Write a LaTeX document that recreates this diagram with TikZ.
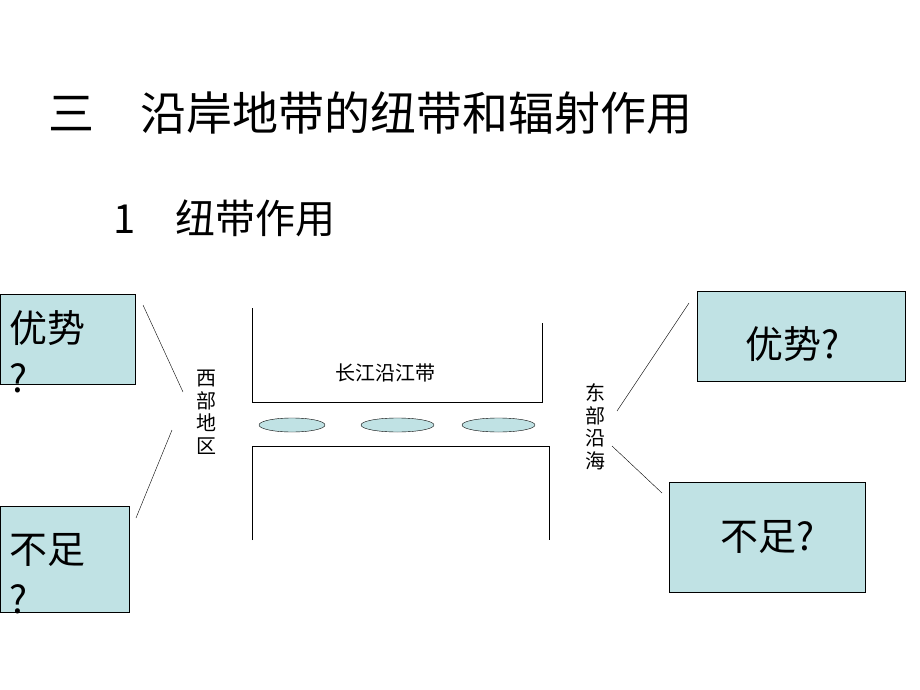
\documentclass[tikz,border=0pt]{standalone}
\usepackage{fontspec}
\newfontfamily\cjk{Noto Sans CJK SC}
\usetikzlibrary{positioning,calc,shapes.geometric}
\definecolor{paleblue}{RGB}{192,226,228}

\begin{document}
\begin{tikzpicture}[x=1pt,y=-1pt]
        \tikzset{box/.style={draw, fill=paleblue, inner sep=0pt, anchor=north west},
                 lens/.style={ellipse, draw, fill=paleblue, inner sep=0pt, minimum height=14pt},
                 side/.style={font=\cjk\fontsize{20}{22.5}\selectfont, align=center, inner sep=0pt},
                 big/.style={font=\cjk\fontsize{38}{50}\selectfont, inner sep=0pt}}
        \useasboundingbox (0,0) rectangle (920,690);

        % titles
        \node[anchor=west, inner sep=0pt, font=\cjk\fontsize{46}{50}\selectfont] (title) at (48,113) {三　沿岸地带的纽带和辐射作用};
        \node[anchor=west, inner sep=0pt, font=\cjk\fontsize{40}{44}\selectfont] (sub) at (113,218) {1　纽带作用};

        % river belt
        \draw (252,308) -- (252,402) -- (542,402) -- (542,323);
        \draw (252,540) -- (252,446) -- (549,446) -- (549,540);
        \node[side] (belt) at (385,373) {长江沿江带};
        \node[lens, minimum width=66pt] (l1) at (292,425) {};
        \node[lens, minimum width=73pt] (l2) at (397.5,425) {};
        \node[lens, minimum width=73pt] (l3) at (498.5,425) {};

        % west
        \node[side] (west) at (206,412) {西\\部\\地\\区};
        \node[box, minimum width=135pt, minimum height=90pt] (wgood) at (0,294) {};
        \node[box, minimum width=129pt, minimum height=106pt] (wbad) at (0,506) {};
        \node[big, align=left, anchor=north west] (wgoodt) at (9,310) {优势\\?};
        \node[big, align=left, anchor=north west] (wbadt) at (9,533) {不足\\?};
        \coordinate (w1) at (143,305);
        \coordinate (w2) at (183,392);
        \coordinate (w3) at (172,430);
        \coordinate (w4) at (136,518);
        \draw (w1) -- (w2);
        \draw (w3) -- (w4);

        % east
        \node[side] (east) at (595,427) {东\\部\\沿\\海};
        \node[box, minimum width=208pt, minimum height=90pt] (egood) at (697,291) {};
        \node[box, minimum width=196pt, minimum height=110pt] (ebad) at (669,482) {};
        \node[big] (egoodt) at (792,344) {优势?};
        \node[big] (ebadt) at (767,537) {不足?};
        \coordinate (e1) at (689,303);
        \coordinate (e2) at (617,411);
        \coordinate (e3) at (612,446);
        \coordinate (e4) at (662,493);
        \draw (e1) -- (e2);
        \draw (e3) -- (e4);
\end{tikzpicture}
\end{document}
